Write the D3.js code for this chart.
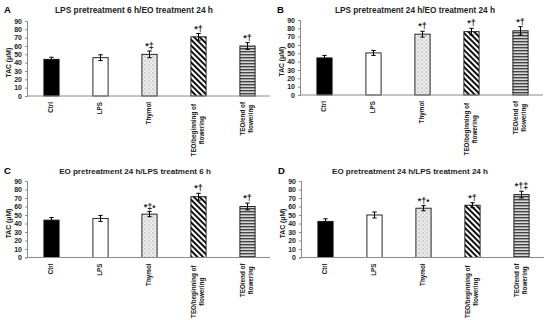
<!DOCTYPE html>
<html><head><meta charset="utf-8">
<script src="https://cdn.jsdelivr.net/npm/d3@7"></script>
<style>
body{margin:0;background:#fff;}
svg{display:block;font-family:"Liberation Sans",Arial,sans-serif;}
</style></head>
<body>
<svg id="chart" width="550" height="320"></svg>
<script>
const categories = ["Ctrl","LPS","Thymol","TEO/beginning of flowering","TEO/end of flowering"];
const categoryLines = [["Ctrl"],["LPS"],["Thymol"],["TEO/beginning of","flowering"],["TEO/end of","flowering"]];
const yTicks = [0,10,20,30,40,50,60,70,80,90];
const yLabel = "TAC (μM)";

const panelLetters = ["A","B","C","D"];
const panelTitles = [
  "LPS pretreatment 6 h/EO treatment 24 h",
  "LPS pretreatment 24 h/EO treatment 24 h",
  "EO pretreatment 24 h/LPS treatment 6 h",
  "EO pretreatment 24 h/LPS treatment 24 h"
];
const valuesA = [44, 46, 50, 71, 60];
const errorsA = [2.5, 3.5, 4, 4, 4];
const marksA  = ["", "", "*‡", "*†", "*†"];
const valuesB = [44.5, 50.5, 73, 76, 77];
const errorsB = [3, 3, 3.5, 4, 5];
const marksB  = ["", "", "*†", "*†", "*†"];
const valuesC = [44, 46, 51, 71.5, 60];
const errorsC = [3, 3.5, 3, 4, 4];
const marksC  = ["", "", "*‡•", "*†", "*†"];
const valuesD = [42.5, 50, 58, 61.5, 74];
const errorsD = [3, 3.5, 3, 3, 4];
const marksD  = ["", "", "*†•", "*†", "*†‡"];

const panelValues = [valuesA, valuesB, valuesC, valuesD];
const panelErrors = [errorsA, errorsB, errorsC, errorsD];
const panelMarks = [marksA, marksB, marksC, marksD];

// layout (not data): x, y, axis bottom, title center x, title baseline, title width
const panelPos = [[0,0,96,134,13,158],[273,-1,96,142,14,160],[0,160,97.5,135,14,152],[274,160,97.5,136,14,156]];
const labelShift = [0,0,0,2,0];

const svg = d3.select("#chart");
const defs = svg.append("defs");

const pCheck = defs.append("pattern").attr("id","pCheck").attr("patternUnits","userSpaceOnUse").attr("width",4).attr("height",4);
pCheck.append("rect").attr("width",4).attr("height",4).attr("fill","#ececec");
pCheck.append("rect").attr("width",2).attr("height",2).attr("fill","#cfcfcf");
pCheck.append("rect").attr("x",2).attr("y",2).attr("width",2).attr("height",2).attr("fill","#dcdcdc");
const pDiag = defs.append("pattern").attr("id","pDiag").attr("patternUnits","userSpaceOnUse").attr("width",4).attr("height",4)
  .attr("patternTransform","rotate(45)");
pDiag.append("rect").attr("width",4).attr("height",4).attr("fill","#fff");
pDiag.append("rect").attr("width",4).attr("height",2).attr("fill","#111");
const pHor = defs.append("pattern").attr("id","pHor").attr("patternUnits","userSpaceOnUse").attr("width",4).attr("height",3);
pHor.append("rect").attr("width",4).attr("height",3).attr("fill","#d8d8d8");
pHor.append("rect").attr("width",4).attr("height",1.4).attr("fill","#444");

const fills = ["#000","#fff","url(#pCheck)","url(#pDiag)","url(#pHor)"];

panelPos.forEach((pp, i) => {
  const [px, py, yBot, titleX, titleY, titleW] = pp;
  const g = svg.append("g").attr("transform",`translate(${px},${py})`);
  const x = d3.scaleBand().domain(categories).range([27, 272]).paddingInner(0.69).paddingOuter(0.345);
  const y = d3.scaleLinear().domain([0,90]).range([yBot, 21]);

  g.append("text").attr("x",4).attr("y",titleY).attr("font-size",9.5).attr("font-weight","bold").text(panelLetters[i]);
  const tt = g.append("text").attr("x",titleX).attr("y",titleY).attr("text-anchor","middle").attr("font-size",8)
    .attr("font-weight","bold").attr("fill","#222").text(panelTitles[i]);
  const tw = tt.node().getComputedTextLength();
  tt.attr("font-size", 8 * titleW / tw);

  const ya = g.append("g").attr("transform","translate(27,0)")
    .call(d3.axisLeft(y).tickValues(yTicks).tickSize(2).tickPadding(3));
  ya.select(".domain").attr("stroke","#8a8a8a");
  ya.selectAll(".tick line").attr("stroke","#8a8a8a");
  ya.selectAll("text").attr("font-size",7).attr("font-weight","bold").attr("fill","#222").attr("font-family","Liberation Sans, Arial, sans-serif");

  g.append("text").attr("transform",`translate(11,${y(40)}) rotate(-90)`).attr("text-anchor","middle")
    .attr("font-size",6.8).attr("font-weight","bold").attr("fill","#222").text(yLabel);

  const vals = panelValues[i], errs = panelErrors[i], marks = panelMarks[i];

  g.selectAll(".bar").data(categories).enter().append("rect")
    .attr("x", c => x(c)).attr("width", x.bandwidth())
    .attr("y", (c,j) => y(vals[j])).attr("height", (c,j) => y(0) - y(vals[j]))
    .attr("fill", (c,j) => fills[j]).attr("stroke","#111").attr("stroke-width",0.9);

  g.append("line").attr("x1",27).attr("x2",270).attr("y1",y(0)).attr("y2",y(0)).attr("stroke","#8a8a8a").attr("stroke-width",1);

  categories.forEach((c,j) => {
    const cx = x(c) + x.bandwidth()/2;
    const top = y(vals[j] + errs[j]), bot = y(vals[j] - errs[j]);
    g.append("line").attr("x1",cx).attr("x2",cx).attr("y1",top).attr("y2",bot).attr("stroke","#000").attr("stroke-width",1);
    [top,bot].forEach(yy => g.append("line").attr("x1",cx-2.2).attr("x2",cx+2.2).attr("y1",yy).attr("y2",yy).attr("stroke","#000").attr("stroke-width",1));
    if (marks[j]) {
      g.append("text").attr("x",cx).attr("y",top-2).attr("text-anchor","middle").attr("font-size",9)
        .attr("font-weight","bold").attr("fill","#222").text(marks[j]);
    }
    const lines = categoryLines[j];
    const lg = g.append("g");
    const ts = lines.map((ln,k) => lg.append("text").attr("font-size",6.3).attr("font-weight","bold").attr("fill","#222")
      .attr("text-anchor","middle").text(ln));
    const maxLen = d3.max(ts, t => t.node().getComputedTextLength());
    const cy = y(0) + 6 + labelShift[j] + maxLen/2;
    const n = lines.length;
    ts.forEach((t,k) => {
      const lx = cx + (k - (n-1)/2) * 8.5 + (n > 1 ? 1.5 : 1.8);
      t.attr("transform",`translate(${lx},${cy}) rotate(-90)`);
    });
  });
});
</script>
</body></html>
